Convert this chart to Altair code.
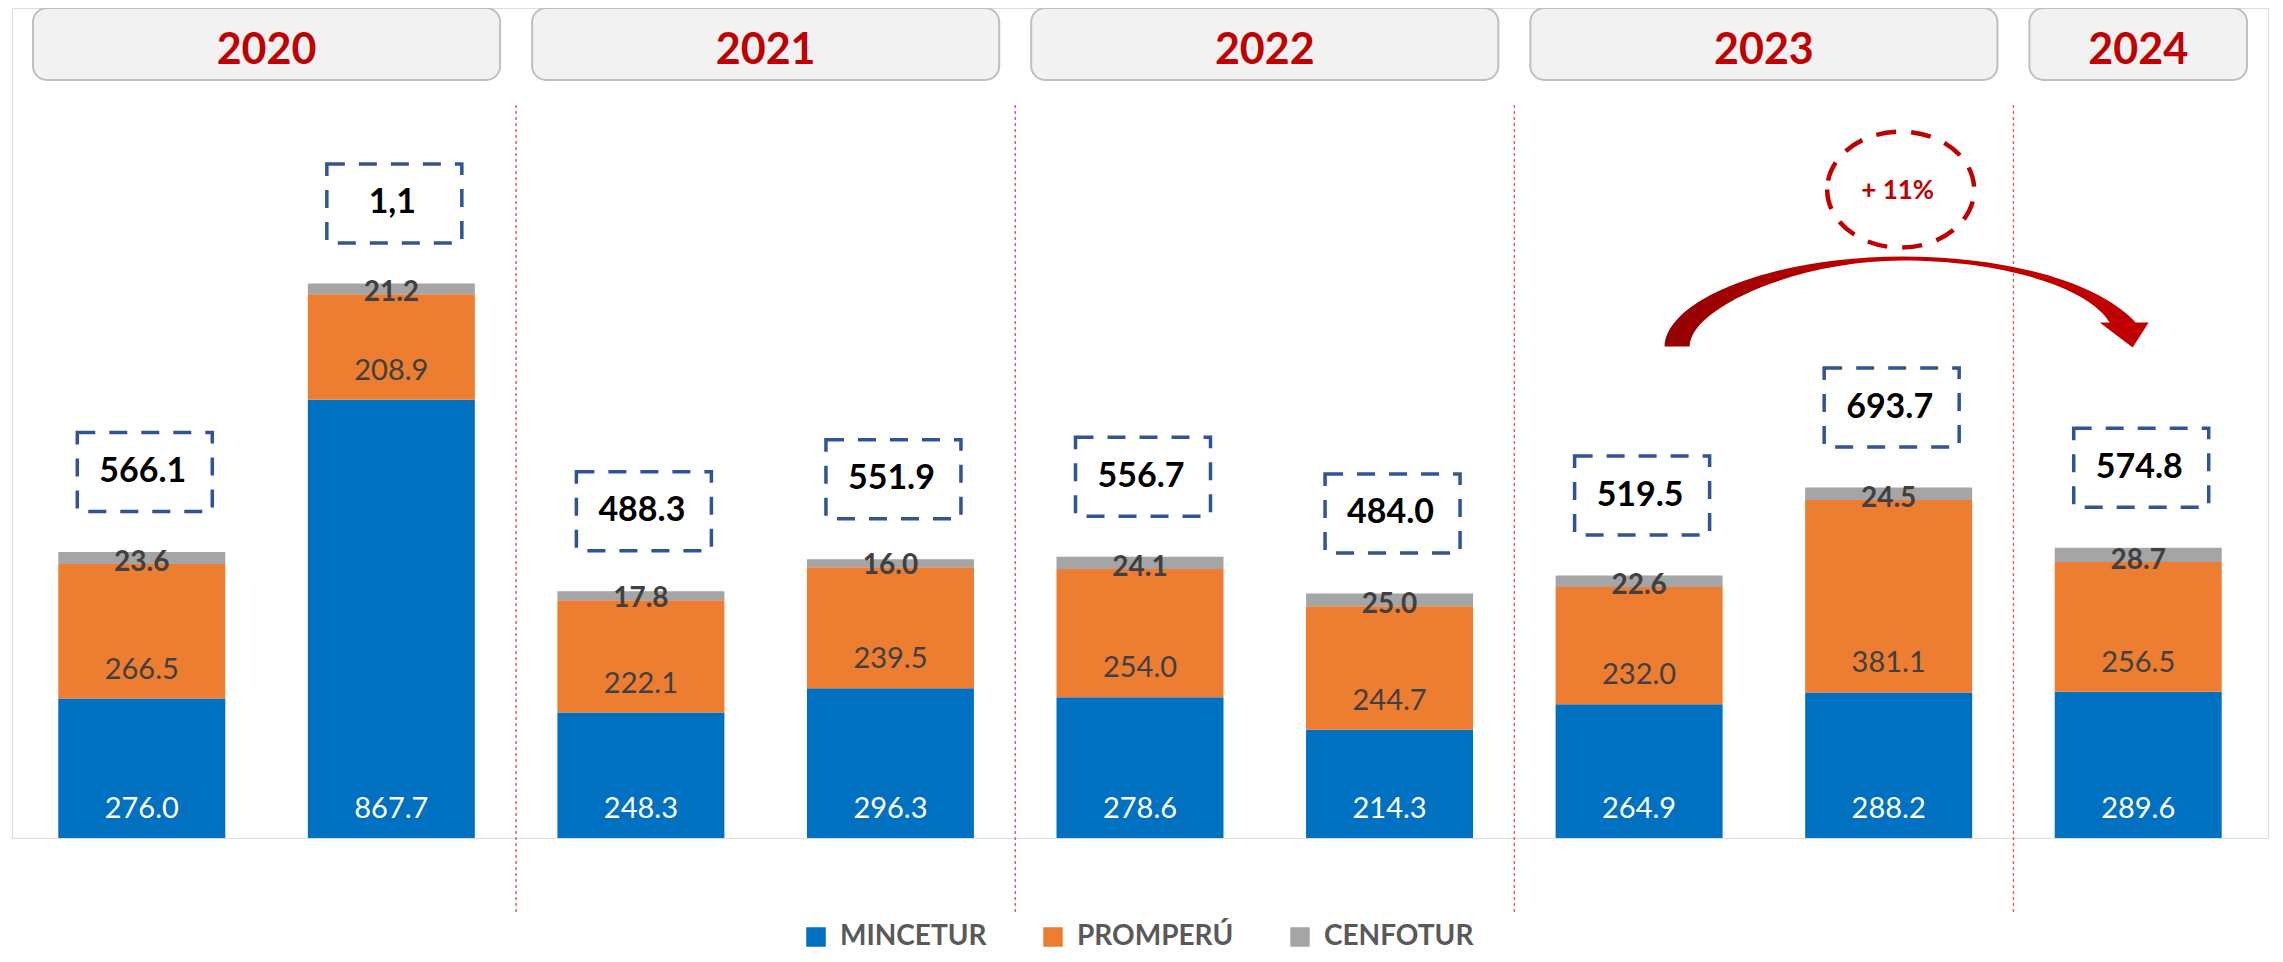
import json
import altair as alt
import pandas as pd

# ---------------- data ----------------
categories = ["PIA 2020", "PIM 2020", "PIA 2021", "PIM 2021", "PIA 2022",
              "PIM 2022", "PIA 2023", "PIM 2023", "PIA 2024"]
entities = ["MINCETUR", "PROMPERÚ", "CENFOTUR"]
mincetur = [276.0, 867.7, 248.3, 296.3, 278.6, 214.3, 264.9, 288.2, 289.6]
promperu = [266.5, 208.9, 222.1, 239.5, 254.0, 244.7, 232.0, 381.1, 256.5]
cenfotur = [23.6, 21.2, 17.8, 16.0, 24.1, 25.0, 22.6, 24.5, 28.7]
total_labels = ["566.1", "1,1", "488.3", "551.9", "556.7", "484.0", "519.5", "693.7", "574.8"]
years = ["2020", "2021", "2022", "2023", "2024"]
year_first = ["PIA 2020", "PIA 2021", "PIA 2022", "PIA 2023", "PIA 2024"]
year_last = ["PIM 2020", "PIM 2021", "PIM 2022", "PIM 2023", "PIA 2024"]
growth_over = ["PIM 2023"]
growth_label = ["+ 11%"]

colors = ["#0070C0", "#ED7D31", "#A5A5A5"]
RED = "#C00000"
FONT = "Lato"

# ---------------- tables ----------------
series = [mincetur, promperu, cenfotur]
rows = []
for i, cat in enumerate(categories):
    base = 0.0
    for ent, vals in zip(entities, series):
        v = vals[i]
        rows.append({"idx": i, "cat": cat, "entity": ent, "lo": base, "hi": base + v,
                     "label": f"{v:.1f}"})
        base += v
long_df = pd.DataFrame(rows)

tot_df = pd.DataFrame({
    "idx": list(range(len(categories))),
    "cat": categories,
    "total": [a + b + c for a, b, c in zip(mincetur, promperu, cenfotur)],
    "label": total_labels,
})

hdr_df = pd.DataFrame({
    "year": years,
    "first": [categories.index(c) for c in year_first],
    "last": [categories.index(c) for c in year_last],
})

sep_df = pd.DataFrame({"first": [categories.index(c) for c in year_first[1:]]})

ann_df = tot_df[tot_df["cat"].isin(growth_over)].copy()
ann_df["glabel"] = growth_label

# ---------------- scales ----------------
xs = alt.Scale(domain=[-0.5, len(categories) - 0.5], nice=False, zero=False)
ys = alt.Scale(domain=[0, 1643], nice=False, zero=True)

# ---------------- shapes (style; unit = 100 px at size 40000) ----------------
box_path = "M-0.675,-0.395 H0.675 V0.395 H-0.675 Z"
ell_path = "M-0.735,0.001 A0.735,0.58 0 1,0 0.735,0.001 A0.735,0.58 0 1,0 -0.735,0.001 Z"
arrow_path = ("M-2.24,0.89 C-2.22,0.40 -1.10,-0.01 0.13,-0.01 "
              "C1.20,-0.01 2.10,0.25 2.47,0.65 L2.60,0.65 L2.44,0.90 L2.11,0.65 L2.21,0.65 "
              "C2.00,0.30 1.15,0.03 0.13,0.03 C-0.90,0.03 -1.99,0.50 -1.99,0.89 Z")

# ---------------- layers ----------------
separators = alt.Chart(sep_df).transform_calculate(
    sx="datum.first - 0.5"
).mark_rule(color="#E06666", strokeDash=[3, 3], strokeWidth=1.5).encode(
    x=alt.X("sx:Q", scale=xs, axis=None),
    y=alt.value(97), y2=alt.value(907),
)

headers = alt.Chart(hdr_df).transform_calculate(
    x0="datum.first - 0.5", x1="datum.last + 0.5"
).mark_rect(cornerRadius=14, fill="#F2F2F2", stroke="#BFBFBF", strokeWidth=2,
            xOffset=16, x2Offset=-16).encode(
    x=alt.X("x0:Q", scale=xs, axis=None), x2="x1:Q",
    y=alt.value(0), y2=alt.value(72),
)

header_text = alt.Chart(hdr_df).transform_calculate(
    mid="(datum.first + datum.last) / 2"
).mark_text(font=FONT, fontSize=43, fontWeight="bold", color=RED, baseline="middle").encode(
    x=alt.X("mid:Q", scale=xs, axis=None), y=alt.value(43), text="year:N",
)

label_expr = json.dumps(categories) + "[datum.value]"

bars = alt.Chart(long_df).mark_bar(size=167).encode(
    x=alt.X("idx:Q", scale=xs, title=None,
            axis=alt.Axis(values=list(range(len(categories))), labelExpr=label_expr,
                          grid=False, ticks=False, tickSize=0, labelPadding=44,
                          labelBaseline="middle", labelFont=FONT, labelFontSize=28,
                          labelFontWeight="bold", labelColor=RED,
                          domainColor="#D9D9D9", domainWidth=3)),
    y=alt.Y("lo:Q", scale=ys, axis=None), y2="hi:Q",
    color=alt.Color("entity:N", scale=alt.Scale(domain=entities, range=colors),
                    legend=alt.Legend(title=None, orient="none", direction="horizontal",
                                      legendX=790, legendY=915, symbolType="square",
                                      symbolSize=380, symbolStrokeWidth=0,
                                      labelFont=FONT, labelFontSize=28, labelFontWeight="bold",
                                      labelColor="#595959", labelOffset=10,
                                      columnPadding=52, labelLimit=400)),
    order=alt.Order("lo:Q"),
)

lbl_min = alt.Chart(long_df).transform_filter(alt.datum.entity == entities[0]).mark_text(
    font=FONT, fontSize=29, color="white", baseline="middle", dy=-29).encode(
    x=alt.X("idx:Q", scale=xs, axis=None), y=alt.Y("lo:Q", scale=ys, axis=None), text="label:N")

lbl_pro = alt.Chart(long_df).transform_filter(alt.datum.entity == entities[1]).mark_text(
    font=FONT, fontSize=29, color="#404040", baseline="middle", dy=-29).encode(
    x=alt.X("idx:Q", scale=xs, axis=None), y=alt.Y("lo:Q", scale=ys, axis=None), text="label:N")

lbl_cen = alt.Chart(long_df).transform_filter(alt.datum.entity == entities[2]).mark_text(
    font=FONT, fontSize=28, fontWeight="bold", color="#404040", baseline="middle", dy=-1).encode(
    x=alt.X("idx:Q", scale=xs, axis=None), y=alt.Y("lo:Q", scale=ys, axis=None), text="label:N")

tot_box = alt.Chart(tot_df).mark_point(
    shape=box_path, size=40000, filled=False, opacity=1, stroke="#2F5597",
    strokeWidth=3.5, strokeDash=[18, 14], xOffset=3, yOffset=-80).encode(
    x=alt.X("idx:Q", scale=xs, axis=None), y=alt.Y("total:Q", scale=ys, axis=None))

tot_txt = alt.Chart(tot_df).mark_text(
    font=FONT, fontSize=34, fontWeight="bold", color="black", baseline="middle",
    dy=-80, dx=1).encode(
    x=alt.X("idx:Q", scale=xs, axis=None), y=alt.Y("total:Q", scale=ys, axis=None),
    text="label:N")

arrow_fill = alt.LinearGradient(
    gradient="linear", x1=0, x2=1, y1=0, y2=0,
    stops=[alt.GradientStop(color="#940000", offset=0),
           alt.GradientStop(color="#C00000", offset=0.45),
           alt.GradientStop(color="#C00000", offset=1)])

arrow = alt.Chart(ann_df).mark_point(
    shape=arrow_path, size=40000, filled=True, opacity=1, fill=arrow_fill,
    strokeWidth=0, yOffset=-230).encode(
    x=alt.X("idx:Q", scale=xs, axis=None), y=alt.Y("total:Q", scale=ys, axis=None))

ellipse = alt.Chart(ann_df).mark_point(
    shape=ell_path, size=40000, filled=False, opacity=1, stroke=RED,
    strokeWidth=4.5, strokeDash=[20, 15], xOffset=12, yOffset=-298).encode(
    x=alt.X("idx:Q", scale=xs, axis=None), y=alt.Y("total:Q", scale=ys, axis=None))

growth_txt = alt.Chart(ann_df).mark_text(
    font=FONT, fontSize=26, fontWeight="bold", color=RED, baseline="middle",
    dx=9, dy=-297).encode(
    x=alt.X("idx:Q", scale=xs, axis=None), y=alt.Y("total:Q", scale=ys, axis=None),
    text="glabel:N")

chart = alt.layer(
    separators, headers, header_text, bars, lbl_min, lbl_pro, lbl_cen,
    tot_box, tot_txt, arrow, ellipse, growth_txt,
).properties(
    width=2256, height=830,
    padding={"left": 4, "top": 0, "right": 7, "bottom": 116},
    autosize=alt.AutoSizeParams(type="none"),
).configure_view(stroke=None).configure(background="white")

chart.save("out.html", embed_options={"renderer": "svg", "actions": False})
